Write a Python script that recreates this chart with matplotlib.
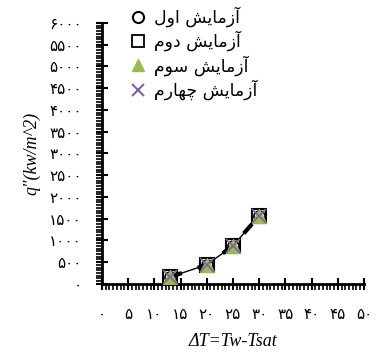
import matplotlib
matplotlib.use('Agg')
import matplotlib.pyplot as plt
from matplotlib.ticker import AutoMinorLocator

# wall superheat (C) and heat flux (kW/m^2) for the four runs
delta_t = [13, 20, 25, 30]
q_run1 = [160, 440, 875, 1565]
q_run2 = [160, 440, 875, 1565]
q_run3 = [155, 435, 870, 1560]
q_run4 = [160, 440, 875, 1565]

# Persian labels, pre-shaped (presentation forms) and in visual order
# because matplotlib does no Arabic-script shaping
azmayesh = '\uFE81\uFEAF\uFEE3\uFE8E\uFEF3\uFEB6'
run_words = ['\uFE8D\uFEED\uFEDD',              # اول
             '\uFEA9\uFEED\uFEE1',              # دوم
             '\uFEB3\uFEEE\uFEE1',              # سوم
             '\uFB7C\uFEEC\uFE8E\uFEAD\uFEE1']  # چهارم
run_labels = [(azmayesh + ' ' + w)[::-1] for w in run_words]

fa_digits = str.maketrans('0123456789', '۰۱۲۳۴۵۶۷۸۹')
x_ticks = list(range(0, 51, 5))
y_ticks = list(range(0, 6001, 500))

fig = plt.figure(figsize=(3.76, 3.54), dpi=100)
ax = fig.add_axes([0.271, 0.198, 0.697, 0.737])

# trend lines through the points
ax.plot(delta_t, q_run1, color='black', lw=1.0, zorder=2)
ax.plot(delta_t, q_run2, color='black', lw=3.0, dashes=(3, 4), zorder=2)

ax.plot(delta_t, q_run1, 'o', ms=8, mfc='none', mec='black', mew=1.2, zorder=3)
ax.plot(delta_t, q_run2, 's', ms=10.5, mfc='none', mec='black', mew=1.5, zorder=3)
ax.plot(delta_t, q_run3, '^', ms=10, color='#9BBB59', zorder=4)
ax.plot(delta_t, q_run4, 'x', ms=10, mew=1.3, color='#8064A2', zorder=5)

ax.set_xlim(0, 50)
ax.set_ylim(0, 6000)
ax.set_xticks(x_ticks)
ax.set_yticks(y_ticks)
ax.set_xticklabels([str(v).translate(fa_digits) for v in x_ticks])
ax.set_yticklabels([str(v).translate(fa_digits) for v in y_ticks])
ax.xaxis.set_minor_locator(AutoMinorLocator(7))
ax.yaxis.set_minor_locator(AutoMinorLocator(8))

for s in ['top', 'right']:
    ax.spines[s].set_visible(False)
for s in ['left', 'bottom']:
    ax.spines[s].set_linewidth(2)

ax.tick_params(which='major', direction='inout', length=9, width=1.5, labelsize=11)
ax.tick_params(which='minor', direction='out', length=4.5, width=1.2)
ax.tick_params(axis='y', which='major', pad=10)
ax.tick_params(axis='x', which='major', pad=12)

ax.set_xlabel('ΔT=Tw-Tsat', fontsize=13, style='italic', family='Liberation Serif', labelpad=8)
ax.set_ylabel('q"(kw/m^2)', fontsize=13, style='italic', family='Liberation Serif', labelpad=6)

handles = [
    plt.Line2D([], [], ls='none', marker='o', ms=8, mfc='none', mec='black', mew=1.5),
    plt.Line2D([], [], ls='none', marker='s', ms=8, mfc='none', mec='black', mew=1.3),
    plt.Line2D([], [], ls='none', marker='^', ms=9, color='#9BBB59'),
    plt.Line2D([], [], ls='none', marker='x', ms=8, mew=1.5, color='#8064A2'),
]
fig.legend(handles, run_labels, loc='upper left', bbox_to_anchor=(0.345, 0.982),
           frameon=False, fontsize=12.5, handlelength=1.0, handletextpad=0.4,
           labelspacing=0.22, borderpad=0, borderaxespad=0)

plt.savefig('out.png', dpi=100)
